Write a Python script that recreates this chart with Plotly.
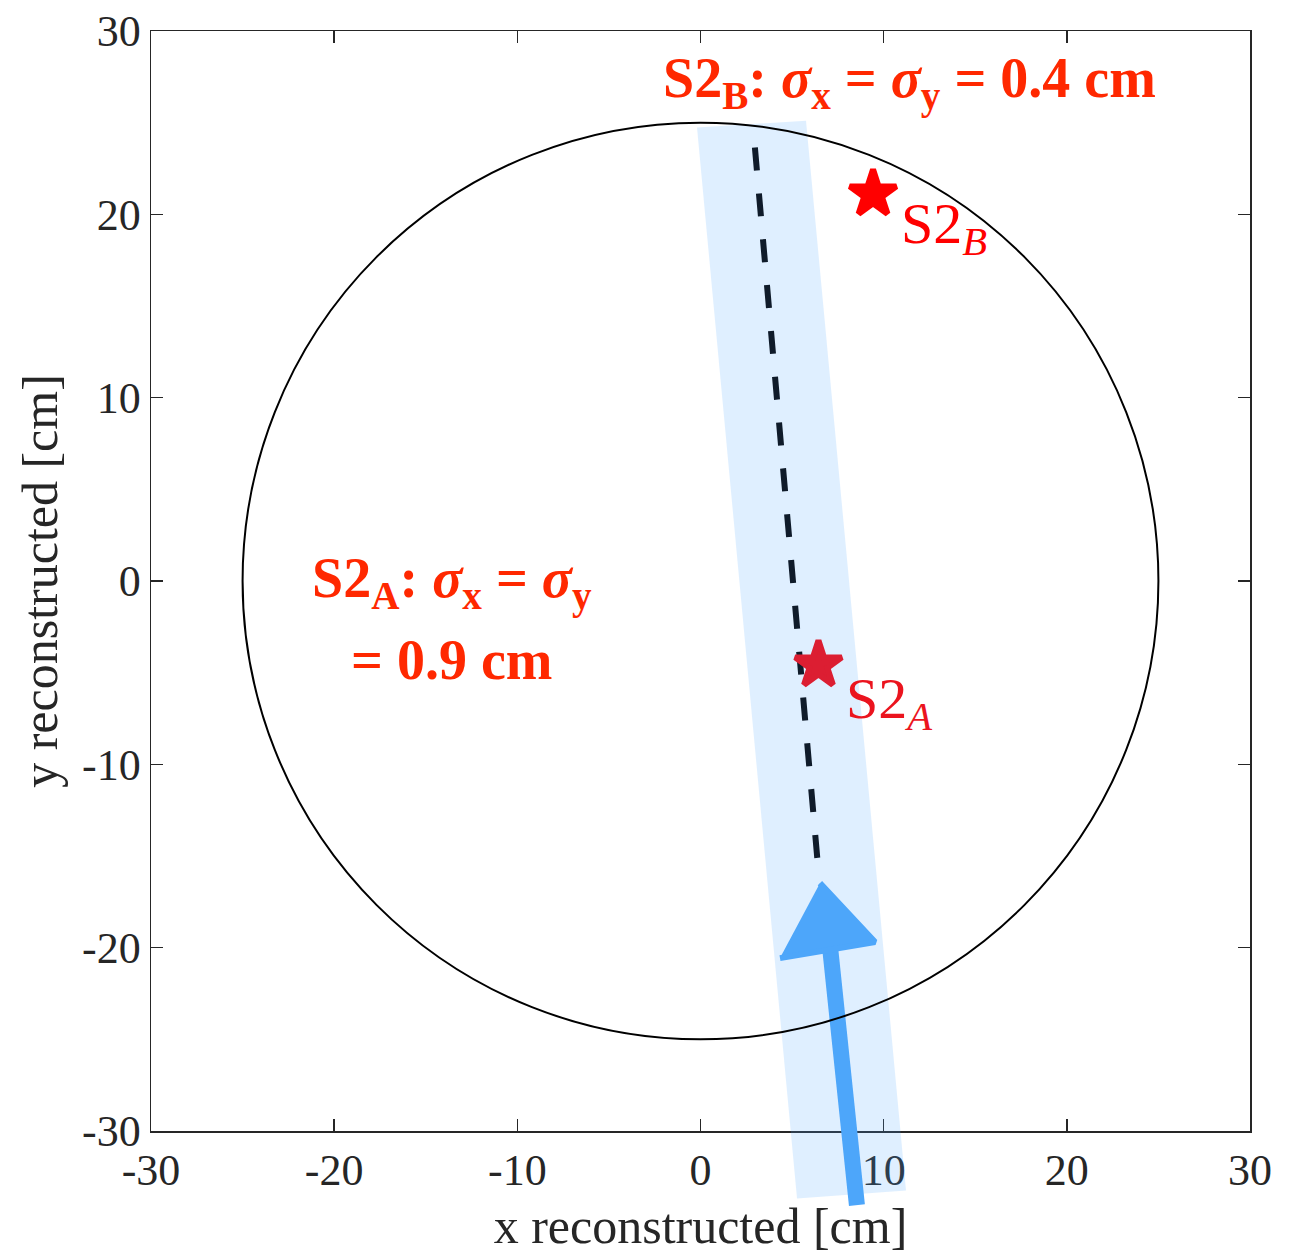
import plotly.graph_objects as go

W, H = 1301, 1254

# ---------------- data ----------------
x_range = [-30, 30]
y_range = [-30, 30]
tick_vals = [-30, -20, -10, 0, 10, 20, 30]
tick_text = ["-30", "-20", "-10", "0", "10", "20", "30"]

circle_radius = 25

band_x = [-0.19, 5.76, 11.22, 5.27]
band_y = [24.73, 25.11, -33.24, -33.68]

track_x = [2.97, 6.41]
track_y = [23.64, -15.5]

arrow_shaft_x = [8.54, 7.75, 6.95]
arrow_shaft_y = [-34.04, -27.2, -18.8]
arrow_head_x = [6.52, 9.53, 4.34]
arrow_head_y = [-16.48, -19.69, -20.57]

star_names = ["S2_A", "S2_B"]
star_x = [6.44, 9.42]
star_y = [-4.58, 21.11]
star_colors = ["rgb(220,30,50)", "rgb(255,0,0)"]

label_x = [7.85, 10.85]
label_y = [-6.6, 19.3]
label_text = ["S2<sub><i>A</i></sub>", "S2<sub><i>B</i></sub>"]

# ---------------- layout geometry ----------------
xd = [151 / W, 1250 / W]
yd = [(H - 1131) / H, (H - 31) / H]
sx = (x_range[1] - x_range[0]) / (xd[1] - xd[0])
sy = (y_range[1] - y_range[0]) / (yd[1] - yd[0])
x2_range = [x_range[0] - xd[0] * sx, x_range[1] + (1 - xd[1]) * sx]
y2_range = [y_range[0] - yd[0] * sy, y_range[1] + (1 - yd[1]) * sy]

AXC = "rgb(38,38,38)"
FONT = "Liberation Serif, Times New Roman, serif"
RED = "rgb(255,40,0)"
ARROWC = "rgb(77,166,250)"

fig = go.Figure()

# dummy trace so the framed axes exist
fig.add_trace(go.Scatter(x=[None], y=[None], xaxis="x", yaxis="y",
                         showlegend=False, hoverinfo="skip"))

# band
fig.add_trace(go.Scatter(x=band_x, y=band_y, xaxis="x2", yaxis="y2",
                         fill="toself", fillcolor="rgba(77,166,255,0.18)",
                         mode="lines", line=dict(width=0),
                         showlegend=False, hoverinfo="skip"))
# arrow shaft
fig.add_trace(go.Scatter(x=arrow_shaft_x, y=arrow_shaft_y, xaxis="x2", yaxis="y2",
                         mode="lines", line=dict(color=ARROWC, width=16),
                         showlegend=False, hoverinfo="skip"))
# arrow head
fig.add_trace(go.Scatter(x=arrow_head_x, y=arrow_head_y, xaxis="x2", yaxis="y2",
                         fill="toself", fillcolor=ARROWC,
                         mode="lines", line=dict(color=ARROWC, width=6),
                         showlegend=False, hoverinfo="skip"))
# dashed track
fig.add_trace(go.Scatter(x=track_x, y=track_y, xaxis="x2", yaxis="y2",
                         mode="lines",
                         line=dict(color="rgb(15,27,42)", width=6, dash="23px,23px"),
                         showlegend=False, hoverinfo="skip"))
# stars
fig.add_trace(go.Scatter(x=star_x, y=star_y, xaxis="x2", yaxis="y2",
                         mode="markers", text=star_names,
                         marker=dict(symbol="star", size=35, color=star_colors,
                                     line=dict(color=star_colors, width=6)),
                         showlegend=False, hoverinfo="skip"))

# detector circle
fig.add_shape(type="circle", xref="x", yref="y",
              x0=-circle_radius, x1=circle_radius, y0=-circle_radius, y1=circle_radius,
              line=dict(color="black", width=2), layer="above")

# labels
for lx, ly, lt, c in zip(label_x, label_y, label_text, ["rgb(235,20,30)", "rgb(255,0,0)"]):
    fig.add_annotation(x=lx, y=ly, xref="x", yref="y", text=lt, showarrow=False,
                       xanchor="left", yanchor="middle",
                       font=dict(family=FONT, size=58, color=c))

fig.add_annotation(x=11.43, y=27.2, xref="x", yref="y", showarrow=False,
                   text="<b>S2<sub>B</sub>: <i>σ</i><sub>x</sub> = <i>σ</i><sub>y</sub> = 0.4 cm</b>",
                   font=dict(family=FONT, size=56, color=RED))
fig.add_annotation(x=-13.57, y=-0.1, xref="x", yref="y", showarrow=False,
                   text="<b>S2<sub>A</sub>: <i>σ</i><sub>x</sub> = <i>σ</i><sub>y</sub></b>",
                   font=dict(family=FONT, size=56, color=RED))
fig.add_annotation(x=-13.57, y=-4.3, xref="x", yref="y", showarrow=False,
                   text="<b>= 0.9 cm</b>",
                   font=dict(family=FONT, size=56, color=RED))

axis_common = dict(showline=True, linecolor=AXC, linewidth=1.5, mirror="allticks",
                   ticks="inside", ticklen=12, tickwidth=1.5, tickcolor=AXC,
                   showgrid=False, zeroline=False, tickvals=tick_vals, ticktext=tick_text,
                   tickfont=dict(family=FONT, size=44, color=AXC), automargin=False,
                   fixedrange=True)

fig.update_layout(
    width=W, height=H,
    margin=dict(l=0, r=0, t=0, b=0),
    paper_bgcolor="white", plot_bgcolor="rgba(0,0,0,0)",
    showlegend=False,
    xaxis=dict(domain=xd, range=x_range, anchor="y",
               title=dict(text="x reconstructed [cm]", standoff=20,
                          font=dict(family=FONT, size=50, color=AXC)),
               **axis_common),
    yaxis=dict(domain=yd, range=y_range, anchor="x",
               title=dict(text="y reconstructed [cm]", standoff=8,
                          font=dict(family=FONT, size=50, color=AXC)),
               **axis_common),
    xaxis2=dict(domain=[0, 1], range=x2_range, anchor="y2", visible=False, fixedrange=True),
    yaxis2=dict(domain=[0, 1], range=y2_range, anchor="x2", visible=False, fixedrange=True),
)

fig.write_html("out.html", config=dict(displayModeBar=False, staticPlot=True))
